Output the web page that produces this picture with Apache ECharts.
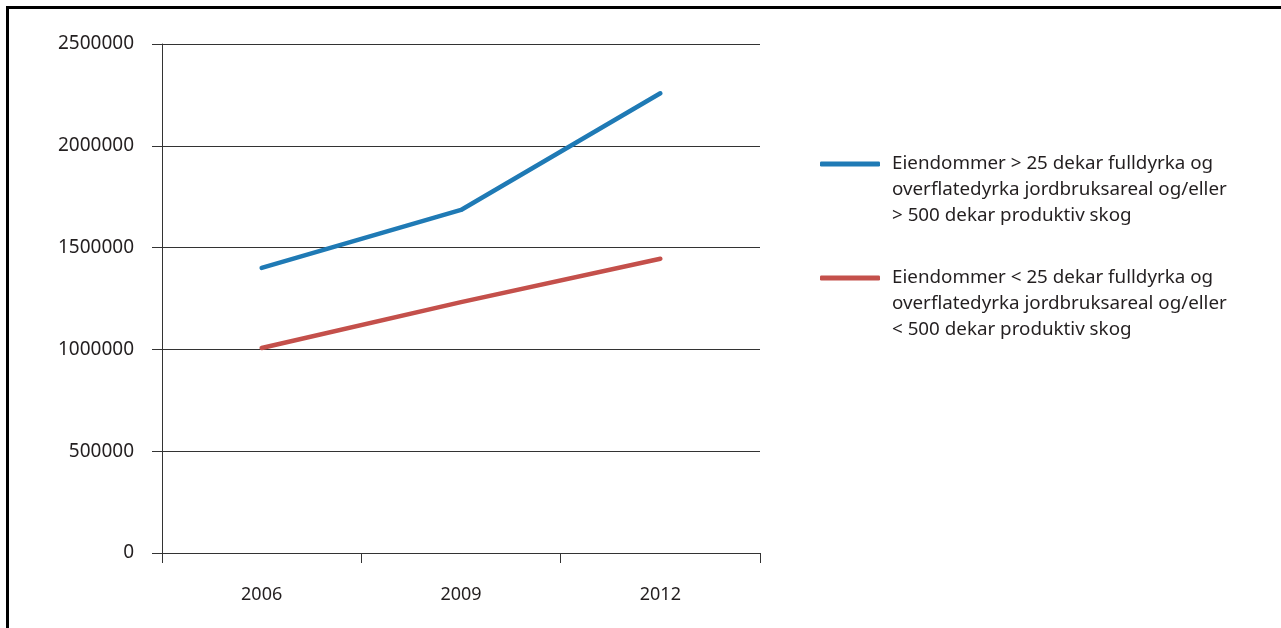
<!DOCTYPE html>
<html>
<head>
<meta charset="utf-8">
<script src="https://cdn.jsdelivr.net/npm/echarts@6/dist/echarts.min.js"></script>
<style>
  html, body { margin: 0; padding: 0; background: #fff; }
  #chart { position: absolute; left: 0; top: 0; width: 1281px; height: 628px; }
  #frame {
    position: absolute; left: 6px; top: 6px; right: 0; bottom: 0;
    border-left: 3px solid #000; border-top: 3px solid #000;
    pointer-events: none;
  }
</style>
</head>
<body>
<div id="chart"></div>
<div id="frame"></div>
<script>
// years on the x axis
var years = ['2006', '2009', '2012'];
// series names
var nameLarge = 'Eiendommer > 25 dekar fulldyrka og\noverflatedyrka jordbruksareal og/eller\n> 500 dekar produktiv skog';
var nameSmall = 'Eiendommer < 25 dekar fulldyrka og\noverflatedyrka jordbruksareal og/eller\n< 500 dekar produktiv skog';
// values
var largeValues = [1400000, 1685000, 2258000];
var smallValues = [1007000, 1232000, 1445000];

var textColor = '#231f20';
var font = 'Noto Sans';

// legend text: two blank lines on top so the icon sits beside the first line
function legendItem(name, top) {
    return {
        orient: 'vertical',
        left: 815,
        top: top,
        itemWidth: 60,
        itemHeight: 5,
        icon: 'roundRect',
        formatter: function (n) { return '\n\n' + n; },
        textStyle: {
            color: textColor,
            fontFamily: font,
            fontSize: 18.8,
            lineHeight: 26,
            padding: [0, 0, 0, 7]
        },
        data: [name]
    };
}

var chart = echarts.init(document.getElementById('chart'));
chart.setOption({
    animation: false,
    grid: { left: 162, right: 521, top: 44, bottom: 75 },
    legend: [legendItem(nameLarge, 94), legendItem(nameSmall, 208)],
    xAxis: {
        type: 'category',
        data: years,
        boundaryGap: true,
        axisLine: { lineStyle: { color: '#333', width: 1 } },
        axisTick: { show: true, length: 10, lineStyle: { color: '#333' } },
        axisLabel: { color: textColor, fontFamily: font, fontSize: 18, margin: 33 }
    },
    yAxis: {
        type: 'value',
        min: 0,
        max: 2500000,
        interval: 500000,
        axisLine: { show: true, lineStyle: { color: '#333', width: 1 } },
        axisTick: { show: true, length: 10, lineStyle: { color: '#333' } },
        axisLabel: {
            color: textColor, fontFamily: font, fontSize: 19, margin: 28,
            formatter: function (v) { return String(v); }
        },
        splitLine: { lineStyle: { color: '#333', width: 1 } }
    },
    series: [
        {
            name: nameLarge,
            type: 'line',
            data: largeValues,
            symbol: 'none',
            color: '#1f7ab5',
            lineStyle: { width: 4.5, cap: 'round', join: 'round' }
        },
        {
            name: nameSmall,
            type: 'line',
            data: smallValues,
            symbol: 'none',
            color: '#c4504b',
            lineStyle: { width: 4.5, cap: 'round', join: 'round' }
        }
    ]
});
</script>
</body>
</html>
